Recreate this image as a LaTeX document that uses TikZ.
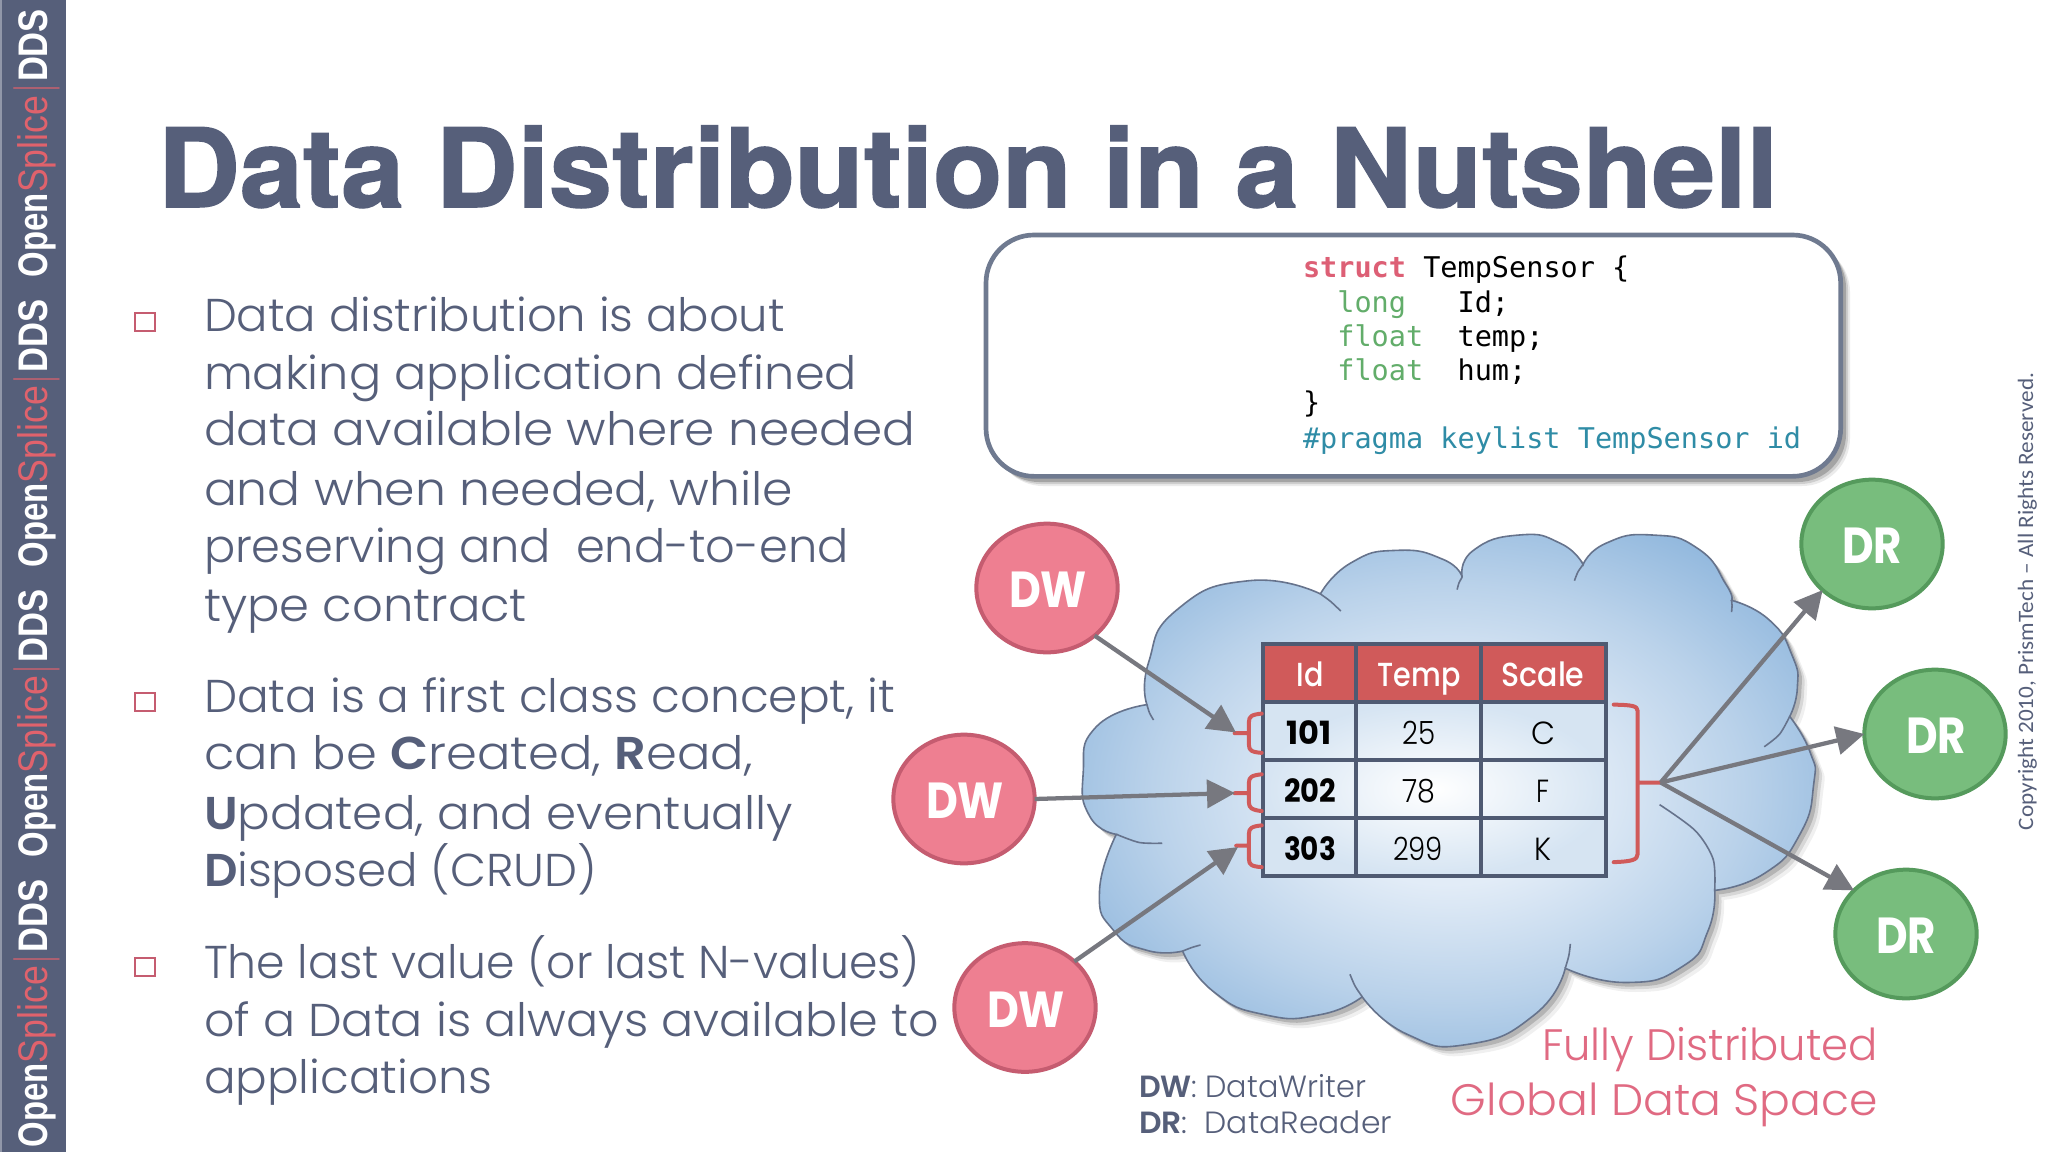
\documentclass[tikz,border=0pt]{standalone}
\usepackage{graphicx}
\usepackage{fontspec}
\usetikzlibrary{shapes.geometric,arrows.meta}
\setmainfont{Liberation Sans}
\newfontfamily\gothic{Poppins}[UprightFont=* Light,BoldFont=* SemiBold]
\newfontfamily\gothicmed{Poppins}[UprightFont=* Medium,BoldFont=* Bold]
\newfontfamily\helv{Liberation Sans}
\newfontfamily\titlefont{TeX Gyre Heros}[BoldFeatures={FakeBold=1.4}]
\newfontfamily\mono{DejaVu Sans Mono}
\newfontfamily\calib{Carlito}
\definecolor{slate}{HTML}{565F7A}
\definecolor{barred}{HTML}{E0626C}
\definecolor{pinkfill}{HTML}{EE7F91}
\definecolor{pinkline}{HTML}{C55C70}
\definecolor{greenfill}{HTML}{78BD7D}
\definecolor{greenline}{HTML}{559A5C}
\definecolor{arrowgrey}{HTML}{77787F}
\definecolor{tabred}{HTML}{D05A5A}
\definecolor{tabline}{HTML}{4F5A72}
\definecolor{rosetext}{HTML}{E06A82}
\definecolor{boxline}{HTML}{6F7A90}
\definecolor{codegreen}{HTML}{62AD6A}
\definecolor{codered}{HTML}{DD5F75}
\definecolor{codeblue}{HTML}{2F8CA6}
\definecolor{cloudin}{HTML}{E2ECF7}
\definecolor{cloudmid}{HTML}{BAD2EA}
\definecolor{cloudout}{HTML}{93B9DE}
\definecolor{cloudline}{HTML}{66738C}
\pgfdeclareradialshading{cloudglow}{\pgfpointorigin}{color(0bp)=(cloudin); color(9bp)=(cloudin); color(20bp)=(cloudmid); color(29bp)=(cloudout); color(50bp)=(cloudout)}
\newcommand{\fitw}[2]{\resizebox{\dimexpr #1pt*3/4\relax}{\height}{#2}}
\newcommand{\bodypx}{\fontsize{34.5pt}{40pt}\selectfont}
\newcommand{\cloudoutline}{
  plot[smooth,tension=.95] coordinates {(190,517) (193,400) (250,250) (390,170) (530,207)}
  -- plot[smooth,tension=.95] coordinates {(530,207) (590,120) (680,85) (770,110) (808,160)}
  -- plot[smooth,tension=.95] coordinates {(808,160) (830,85) (920,42) (1000,65) (1045,125)}
  -- plot[smooth,tension=.95] coordinates {(1045,125) (1090,65) (1180,42) (1270,80) (1325,180) (1336,225)}
  -- plot[smooth,tension=.95] coordinates {(1336,225) (1410,280) (1455,380) (1465,470) (1450,550)}
  -- plot[smooth,tension=.95] coordinates {(1450,550) (1490,650) (1497,740) (1470,880) (1400,990) (1303,1037)}
  -- plot[smooth,tension=.95] coordinates {(1303,1037) (1290,1150) (1240,1250) (1130,1295) (1010,1255)}
  -- plot[smooth,tension=.95] coordinates {(1010,1255) (950,1385) (820,1468) (700,1440) (612,1335)}
  -- plot[smooth,tension=.95] coordinates {(612,1335) (530,1385) (420,1385) (320,1320) (260,1207)}
  -- plot[smooth,tension=.95] coordinates {(260,1207) (190,1205) (125,1150) (97,1040) (130,880)}
  -- plot[smooth,tension=.95] coordinates {(130,880) (78,830) (65,710) (90,580) (190,517)}
  -- cycle}
\tikzset{
  x=0.75pt,y=-0.75pt,
  every node/.style={inner sep=0pt,outer sep=0pt},
  barlabel/.style={anchor=base west,rotate=90,text=white},
  bodyline/.style={anchor=base west,text=slate,font=\gothic\bodypx},
  bulletbox/.style={draw=pinkline,line width=1.2pt,fill=white,minimum width=15pt,minimum height=13.5pt,anchor=center},
  codeline/.style={anchor=base west,font=\mono\fontsize{21.4pt}{25pt}\selectfont},
  writer/.style={ellipse,draw=pinkline,fill=pinkfill,line width=3pt,minimum width=106pt,minimum height=96.5pt,text=white},
  reader/.style={ellipse,draw=greenline,fill=greenfill,line width=3pt,minimum width=106pt,minimum height=96.5pt,text=white},
  flow/.style={draw=arrowgrey,line width=3.2pt,-{Triangle[length=21pt,width=21pt]}},
  cellhead/.style={anchor=base,text=white,font=\gothicmed\fontsize{25pt}{28pt}\selectfont},
  cellkey/.style={anchor=base,text=black,font=\gothicmed\bfseries\fontsize{24pt}{28pt}\selectfont},
  cellval/.style={anchor=base,text=black,font=\gothic\fontsize{24pt}{28pt}\selectfont},
  legend/.style={anchor=base west,text=slate,font=\gothic\fontsize{23pt}{28pt}\selectfont},
  spacelabel/.style={anchor=base east,text=rosetext,font=\gothic\fontsize{33pt}{40pt}\selectfont},
  bracket/.style={draw=tabred,line width=3pt,line cap=round,line join=round},
  curl/.style={draw=cloudline,line width=1.2pt},
  circlelabel/.style={text=white,font=\gothicmed\bfseries\fontsize{38pt}{40pt}\selectfont},
}
\newcommand{\barstring}[1]{%
  \node[barlabel,font=\helv\bfseries\fontsize{31pt}{34pt}\selectfont] (open#1) at (47,#1) {\fitw{84}{Open}};
  \node[barlabel,font=\helv\fontsize{31pt}{34pt}\selectfont,text=barred] (splice#1) at (47,#1-84) {\fitw{97}{Splice}};
  \node[barlabel,font=\helv\fontsize{37pt}{40pt}\selectfont,text=barred] (pipe#1) at (49,#1-186) {\fitw{4}{|}};
  \node[barlabel,font=\helv\bfseries\fontsize{31pt}{34pt}\selectfont] (dds#1) at (47,#1-195) {\fitw{73}{DDS}};
}
\begin{document}
\begin{tikzpicture}
\useasboundingbox (0,0) rectangle (2048,1152);
\fill[white] (0,0) rectangle (2048,1152);
% side bar
\fill[slate] (0,0) rectangle (66,1152);
\fill[slate!65!white] (0,0) rectangle (2,1152);
\barstring{277}
\barstring{567}
\barstring{857}
\barstring{1147}
% title
\node[anchor=base west,text=slate,font=\titlefont\bfseries\fontsize{82pt}{90pt}\selectfont] (title) at (158,207) {\fitw{1620}{Data Distribution in a Nutshell}};
% bullets
\node[bulletbox] (b1) at (145,322) {};
\node[bulletbox] (b2) at (145,702) {};
\node[bulletbox] (b3) at (145,967) {};
% paragraph 1
\node[bodyline] (p1a) at (204,331) {\fitw{581}{Data distribution is about}};
\node[bodyline] (p1b) at (204,389) {\fitw{653}{making application defined}};
\node[bodyline] (p1c) at (204,445) {\fitw{711}{data available where needed}};
\node[bodyline] (p1d) at (204,505) {\fitw{589}{and when needed, while}};
\node[bodyline] (p1e) at (204,562) {\fitw{645}{preserving and\ \ end-to-end}};
\node[bodyline] (p1f) at (204,621) {\fitw{323}{type contract}};
% paragraph 2
\node[bodyline] (p2a) at (204,712) {\fitw{691}{Data is a first class concept, it}};
\node[bodyline] (p2b) at (204,769) {\fitw{549}{can be \textbf{C}reated, \textbf{R}ead,}};
\node[bodyline] (p2c) at (204,829) {\fitw{589}{\textbf{U}pdated, and eventually}};
\node[bodyline] (p2d) at (204,886) {\fitw{393}{\textbf{D}isposed (CRUD)}};
% paragraph 3
\node[bodyline] (p3a) at (204,978) {\fitw{716}{The last value (or last N-values)}};
\node[bodyline] (p3b) at (204,1036) {\fitw{735}{of a Data is always available to}};
\node[bodyline] (p3c) at (204,1093) {\fitw{288}{applications}};
% code box
\foreach \off/\op in {9/.08,7/.12,5/.2}
  \fill[black,opacity=\op,rounded corners=36pt] (986+\off,235+\off) rectangle (1841+\off,477+\off);
\node[draw=boxline,fill=white,line width=3.5pt,rounded corners=36pt,minimum width=641pt,minimum height=181pt,anchor=north west] (codebox) at (986,235) {};
\node[codeline] (c1) at (1303,277) {\textcolor{codered}{\bfseries struct}\textcolor{black}{~TempSensor~\{}};
\node[codeline,text=black] (c2) at (1303,312) {~~\textcolor{codegreen}{long}~~~Id;};
\node[codeline,text=black] (c3) at (1303,346) {~~\textcolor{codegreen}{float}~~temp;};
\node[codeline,text=black] (c4) at (1303,380) {~~\textcolor{codegreen}{float}~~hum;};
\node[codeline,text=black] (c5) at (1303,412) {\}};
\node[codeline,text=codeblue] (c6) at (1303,448) {\#pragma keylist TempSensor id};
% cloud
\begin{scope}[shift={(1050,520)},x=0.75pt/1.96,y=-0.75pt/2.8]
  \foreach \off/\op in {14/.06,10/.10,6/.16}
    \fill[black,opacity=\op,shift={(\off*1.3,\off*1.9)}] \cloudoutline;
  \shade[shading=cloudglow,draw=cloudline,line width=1.2pt] \cloudoutline;
  \draw[curl] plot[smooth] coordinates {(190,517) (195,540) (203,560)};
  \draw[curl] plot[smooth] coordinates {(530,207) (550,228) (570,255)};
  \draw[curl] plot[smooth] coordinates {(808,160) (802,175) (798,195)};
  \draw[curl] plot[smooth] coordinates {(1045,125) (1035,145) (1028,170)};
  \draw[curl] plot[smooth] coordinates {(1336,225) (1337,240) (1336,258)};
  \draw[curl] plot[smooth] coordinates {(1450,550) (1430,600) (1400,635)};
  \draw[curl] plot[smooth] coordinates {(1303,1037) (1300,950) (1265,870) (1195,797)};
  \draw[curl] plot[smooth] coordinates {(1010,1255) (1017,1220) (1020,1187)};
  \draw[curl] plot[smooth] coordinates {(612,1335) (598,1305) (588,1272)};
  \draw[curl] plot[smooth] coordinates {(260,1207) (278,1197) (295,1190)};
  \draw[curl] plot[smooth] coordinates {(130,880) (175,903) (220,905)};
\end{scope}
% table
\fill[tabred] (1263,644) rectangle (1606,702);
\shade[inner color=white,outer color=white!62!cloudout] (1263,702) rectangle (1606,876);
\draw[tabline,line width=2.4pt] (1263,644) rectangle (1606,876);
\draw[tabline,line width=2.4pt] (1356,644) -- (1356,876) (1481,644) -- (1481,876)
  (1263,702) -- (1606,702) (1263,760) -- (1606,760) (1263,818) -- (1606,818);
\node[cellhead] (hid) at (1310,686) {\fitw{27}{Id}};
\node[cellhead] (htemp) at (1419,686) {\fitw{83}{Temp}};
\node[cellhead] (hscale) at (1543,686) {\fitw{83}{Scale}};
\node[cellkey] (k1) at (1309,744) {\fitw{45}{101}};
\node[cellkey] (k2) at (1310,802) {\fitw{52}{202}};
\node[cellkey] (k3) at (1310,860) {\fitw{52}{303}};
\node[cellval] (t1) at (1419,744) {\fitw{33}{25}};
\node[cellval] (t2) at (1419,802) {\fitw{33}{78}};
\node[cellval] (t3) at (1418,860) {\fitw{50}{299}};
\node[cellval] (s1) at (1543,744) {\fitw{24}{C}};
\node[cellval] (s2) at (1543,802) {\fitw{13}{F}};
\node[cellval] (s3) at (1543,860) {\fitw{17}{K}};
% brackets
\begin{scope}[shift={(1050,520)},x=0.75pt/1.96,y=-0.75pt/2.8]
  \draw[bracket] (415,542) .. controls (395,545) and (390,550) .. (390,565) -- (390,630) .. controls (390,645) and (395,650) .. (415,652) (362,597) -- (390,597);
  \draw[bracket] (415,712) .. controls (395,715) and (390,720) .. (390,735) -- (390,792) .. controls (390,805) and (395,812) .. (415,815) (362,765) -- (390,765);
  \draw[bracket] (415,855) .. controls (395,858) and (390,863) .. (390,878) -- (390,950) .. controls (390,965) and (395,970) .. (415,972) (365,912) -- (390,912);
  \draw[bracket] (1105,517) .. controls (1140,518) and (1152,520) .. (1152,535) -- (1152,935) .. controls (1152,952) and (1140,956) .. (1105,958) (1152,735) -- (1197,735);
  \coordinate (hub) at (1197,735);
\end{scope}
% tips
\coordinate (tipa) at (1236,732.5);
\coordinate (tipb) at (1235,793);
\coordinate (tipc) at (1238,847);
% circles
\node[writer] (dw1) at (1047,588) {};
\node[writer] (dw2) at (964,799) {};
\node[writer] (dw3) at (1025,1007.5) {};
\node[reader] (dr1) at (1872,544) {};
\node[reader] (dr2) at (1935,734) {};
\node[reader] (dr3) at (1906,934) {};
% arrows
\draw[flow] (dw1.-45) -- (tipa);
\draw[flow] (dw2.0) -- (tipb);
\draw[flow] (dw3.43) -- (tipc);
\draw[flow] (hub) -- (dr1.223);
\draw[flow] (hub) -- (dr2.180);
\draw[flow] (hub) -- (dr3.140);
% circle labels
\node[circlelabel,anchor=center] (ldw1) at (1048,590) {\fitw{78}{DW}};
\node[circlelabel,anchor=center] (ldw2) at (965,801) {\fitw{78}{DW}};
\node[circlelabel,anchor=center] (ldw3) at (1026,1009.5) {\fitw{78}{DW}};
\node[circlelabel,anchor=center] (ldr1) at (1872,546) {\fitw{60}{DR}};
\node[circlelabel,anchor=center] (ldr2) at (1936,736) {\fitw{60}{DR}};
\node[circlelabel,anchor=center] (ldr3) at (1906,936) {\fitw{60}{DR}};
% captions
\node[legend] (lega) at (1139,1097) {\fitw{227}{\textbf{DW}: DataWriter}};
\node[legend] (legb) at (1139,1133) {\fitw{253}{\textbf{DR}:\ \ DataReader}};
\node[spacelabel] (spa) at (1878,1060) {\fitw{336}{Fully Distributed}};
\node[spacelabel] (spb) at (1878,1115) {\fitw{427}{Global Data Space}};
% copyright
\node[anchor=base west,rotate=90,text=slate,font=\calib\fontsize{16.5pt}{18pt}\selectfont] (copy) at (2033,830) {\fitw{457}{Copyright 2010, PrismTech – All Rights Reserved.}};
\end{tikzpicture}
\end{document}
